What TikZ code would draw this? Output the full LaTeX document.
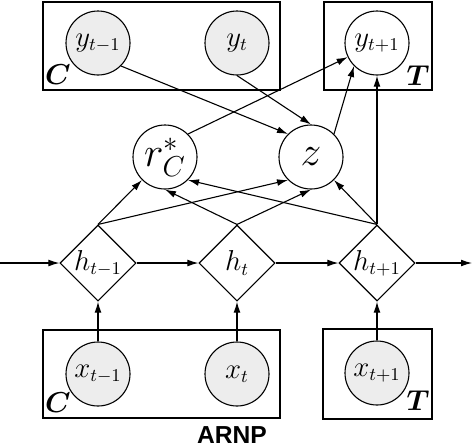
\documentclass[tikz,border=0pt]{standalone}
\usepackage{fontspec}
\usepackage{bm}
\newfontfamily\arnpfont{Liberation Sans}
\usetikzlibrary{shapes.geometric,positioning,arrows.meta}
\begin{document}
\begin{tikzpicture}[x=0.5pt,y=-0.5pt,line width=0.55pt,>={Latex[length=5.5pt,width=3.4pt]},
  obs node/.style={circle,draw,fill=black!7,minimum size=32pt,inner sep=0pt,font=\fontsize{13.5}{16}\selectfont},
  lat node/.style={circle,draw,fill=white,minimum size=32pt,inner sep=0pt},
  det node/.style={diamond,draw,minimum size=38pt,inner sep=0pt,font=\fontsize{13.5}{16}\selectfont},
  plate text/.style={font=\fontsize{15}{18}\selectfont},
  node distance=69.5pt]
  \useasboundingbox (0,0) rectangle (472,446);
  % PLATES
  \draw (43,2) rectangle (280,90);
  \draw (324,2) rectangle (432,90);
  \draw (43,330) rectangle (280,418);
  \draw (323,329) rectangle (432,419);
  % NODES
  \node[det node] (h1) at (98,263) {$h_{t-1}$};
  \node[det node] (h2) [right of=h1] {$h_t$};
  \node[det node] (h3) [right of=h2,node distance=70pt] {$h_{t+1}$};
  \node[obs node] (x1) [below of=h1,node distance=55.5pt] {$x_{t-1}$};
  \node[obs node] (x2) [below of=h2,node distance=55.5pt] {$x_t$};
  \node[obs node] (x3) [below of=h3,node distance=55pt] {$x_{t+1}$};
  \node[obs node] (y1) [above of=h1,node distance=110pt] {$y_{t-1}$};
  \node[obs node] (y2) [above of=h2,node distance=110pt] {$y_t$};
  \node[lat node,font=\fontsize{13.5}{16}\selectfont] (y3) [above of=h3,node distance=110pt] {$y_{t+1}$};
  \node[lat node,font=\huge] (r) at (165,157) {$r^*_C$};
  \node[lat node,font=\huge] (z) [right of=r,node distance=73pt] {$z$};
  \coordinate (start) at (0,263);
  \coordinate (end) at (472,263);
  % LABELS
  \node[plate text] (cy) at (58,75) {$\bm{C}$};
  \node[plate text] (ty) at (418,76) {$\bm{T}$};
  \node[plate text] (cx) at (58,403) {$\bm{C}$};
  \node[plate text] (tx) at (418,401) {$\bm{T}$};
  \node[font=\fontsize{12.3}{14}\selectfont\arnpfont\bfseries,inner sep=0pt] (title) at (232,435) {ARNP};
  % PATHS
  \path[->]
   (start) edge (h1)
   (h1) edge (h2)
   (h2) edge (h3)
   (h3) edge (end);
  \path[->]
   (x1) edge (h1)
   (x2) edge (h2)
   (x3) edge (h3);
  \path[->]
   (h1.north) edge (r.south west)
              edge (z.south west)
   (h2.north) edge (r.south)
              edge (z.south)
   (h3.north) edge (r.south east)
              edge (z.south east)
              edge (y3);
  \path[->]
   (y1.south east) edge (z.north west)
   (y2.south) edge (z.north)
   (r.north east) edge (y3)
   (z.north east) edge (y3.south west);
\end{tikzpicture}
\end{document}
